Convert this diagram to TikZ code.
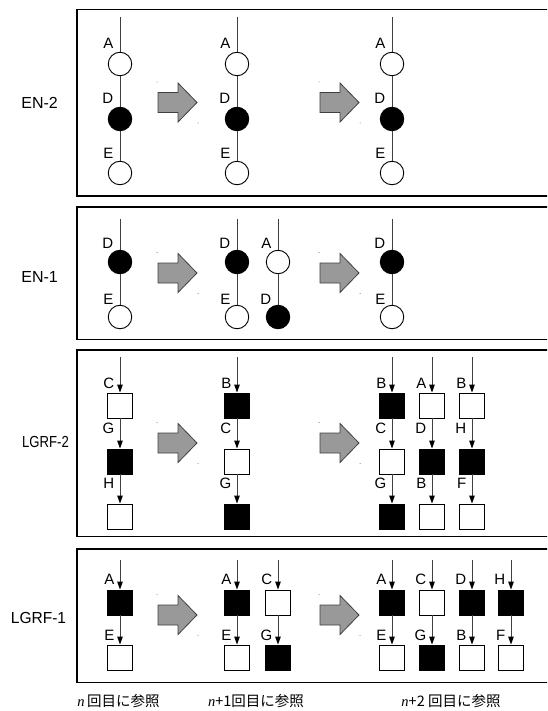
\documentclass[tikz,border=0pt]{standalone}
\usepackage{fontspec}
\setmainfont{Liberation Sans}
\newfontfamily\jpfont{Noto Sans CJK JP}
\newfontfamily\romfont{Liberation Serif}
\usetikzlibrary{arrows.meta}

\definecolor{linkgray}{HTML}{404040}
\definecolor{arrowfill}{HTML}{999999}

\tikzset{
  panel/.style={draw=black, line width=1.3pt},
  wcirc/.style={circle, draw=black, fill=white, minimum size=23.5pt, inner sep=0pt, line width=0.9pt},
  bcirc/.style={wcirc, fill=black},
  wsq/.style={rectangle, draw=black, fill=white, minimum size=25pt, inner sep=0pt, line width=0.9pt},
  bsq/.style={wsq, fill=black},
  link/.style={draw=linkgray, line width=1pt},
  ptr/.style={link, -{Triangle[length=8pt,width=5.5pt,color=black]}},
  tag/.style={anchor=east, inner sep=0pt, font=\fontsize{15}{15}\selectfont},
  rowname/.style={inner sep=0pt, font=\fontsize{16}{16}\selectfont},
  foot/.style={inner sep=0pt, font=\fontsize{14.5}{15}\selectfont},
  blockarrow/.pic={
    \draw[draw=linkgray, fill=arrowfill, line width=0.8pt, line join=miter]
      (0,-10) -- (20,-10) -- (20,-19.5) -- (39,0) -- (20,19.5) -- (20,10) -- (0,10) -- cycle;
    \fill[black!60] (-1,-20.5) circle (0.5pt) (40,20.5) circle (0.5pt);
  }
}

\begin{document}
\begin{tikzpicture}[x=1pt, y=-1pt]
\useasboundingbox (0,0) rectangle (547,711);
\clip (0,0) rectangle (547,711);

% ---------- panels ----------
\draw[panel] (77,9.5) rectangle (570,196);
\draw[panel] (77,207) rectangle (570,339.5);
\draw[panel] (77,350) rectangle (570,536.5);
\draw[panel] (77,549) rectangle (570,682.5);

\node[rowname] (nEN2) at (39.6,102.5) {EN-2};
\node[rowname] (nEN1) at (39.6,277) {EN-1};
\node[rowname] (nLG2) at (45.5,442) {\scalebox{0.82}[1]{LGRF-2}};
\node[rowname] (nLG1) at (38.5,618) {\scalebox{0.97}[1]{LGRF-1}};

% ---------- transition arrows ----------
\foreach \yy in {102.5,273,443,615} {
  \pic at (158,\yy) {blockarrow};
  \pic at (320,\yy) {blockarrow};
}

% ---------- EN-2 : A - D - E chains ----------
\foreach \cx/\k in {120/a,237/b,392/c} {
  \coordinate (e2t\k) at (\cx,17);
  \node[wcirc] (e2A\k) at (\cx,64) {};
  \node[bcirc] (e2D\k) at (\cx,119) {};
  \node[wcirc] (e2E\k) at (\cx,173) {};
  \draw[link] (e2t\k) -- (e2A\k) (e2A\k) -- (e2D\k) (e2D\k) -- (e2E\k);
  \node[tag] (e2lA\k) at (\cx-6.5,43) {A};
  \node[tag] (e2lD\k) at (\cx-6.5,98) {D};
  \node[tag] (e2lE\k) at (\cx-6.5,153) {E};
}

% ---------- EN-1 : D - E chains ----------
\foreach \cx/\k in {120/a,237/b,392/c} {
  \coordinate (e1t\k) at (\cx,219);
  \node[bcirc] (e1D\k) at (\cx,262) {};
  \node[wcirc] (e1E\k) at (\cx,317) {};
  \draw[link] (e1t\k) -- (e1D\k) (e1D\k) -- (e1E\k);
  \node[tag] (e1lD\k) at (\cx-6.5,243) {D};
  \node[tag] (e1lE\k) at (\cx-6.5,299) {E};
}
% A - D chain
\coordinate (e1tx) at (278,219);
\node[wcirc] (e1Ax) at (278,262) {};
\node[bcirc] (e1Dx) at (278,317) {};
\draw[link] (e1tx) -- (e1Ax) (e1Ax) -- (e1Dx);
\node[tag] (e1lAx) at (271.5,243) {A};
\node[tag] (e1lDx) at (271.5,299) {D};

% ---------- LGRF-2 : three-entry lists ----------
\foreach \cx/\k/\sa/\la/\sb/\lb/\sc/\lc in {
    120/a/wsq/C/bsq/G/wsq/H,
    237/b/bsq/B/wsq/C/bsq/G,
    392/c/bsq/B/wsq/C/bsq/G,
    432/d/wsq/A/bsq/D/wsq/B,
    472/e/wsq/B/bsq/H/wsq/F} {
  \coordinate (g2t\k) at (\cx,357);
  \node[\sa] (g2p\k) at (\cx,405.5) {};
  \node[\sb] (g2q\k) at (\cx,461.5) {};
  \node[\sc] (g2r\k) at (\cx,516.5) {};
  \draw[ptr] (g2t\k) -- (g2p\k);
  \draw[ptr] (g2p\k) -- (g2q\k);
  \draw[ptr] (g2q\k) -- (g2r\k);
  \node[tag] (g2lp\k) at (\cx-5.5,383) {\la};
  \node[tag] (g2lq\k) at (\cx-5.5,428) {\lb};
  \node[tag] (g2lr\k) at (\cx-5.5,483) {\lc};
}

% ---------- LGRF-1 : two-entry lists ----------
\foreach \cx/\k/\sa/\la/\sb/\lb in {
    120/a/bsq/A/wsq/E,
    237/b/bsq/A/wsq/E,
    278/x/wsq/C/bsq/G,
    392/c/bsq/A/wsq/E,
    432/d/wsq/C/bsq/G,
    472/e/bsq/D/wsq/B,
    511/f/bsq/H/wsq/F} {
  \coordinate (g1t\k) at (\cx,560);
  \node[\sa] (g1p\k) at (\cx,602.5) {};
  \node[\sb] (g1q\k) at (\cx,657.5) {};
  \draw[ptr] (g1t\k) -- (g1p\k);
  \draw[ptr] (g1p\k) -- (g1q\k);
  \node[tag] (g1lp\k) at (\cx-5.5,579) {\la};
  \node[tag] (g1lq\k) at (\cx-5.5,635) {\lb};
}

% ---------- reference-round captions ----------
\node[foot] (f0) at (118.5,701.5) {{\romfont\itshape n}\,{\jpfont 回目に参照}};
\node[foot] (f1) at (256,701.5) {{\romfont\itshape n}{\jpfont +1回目に参照}};
\node[foot] (f2) at (451,701.5) {{\romfont\itshape n}{\jpfont +2 回目に参照}};
\end{tikzpicture}
\end{document}
